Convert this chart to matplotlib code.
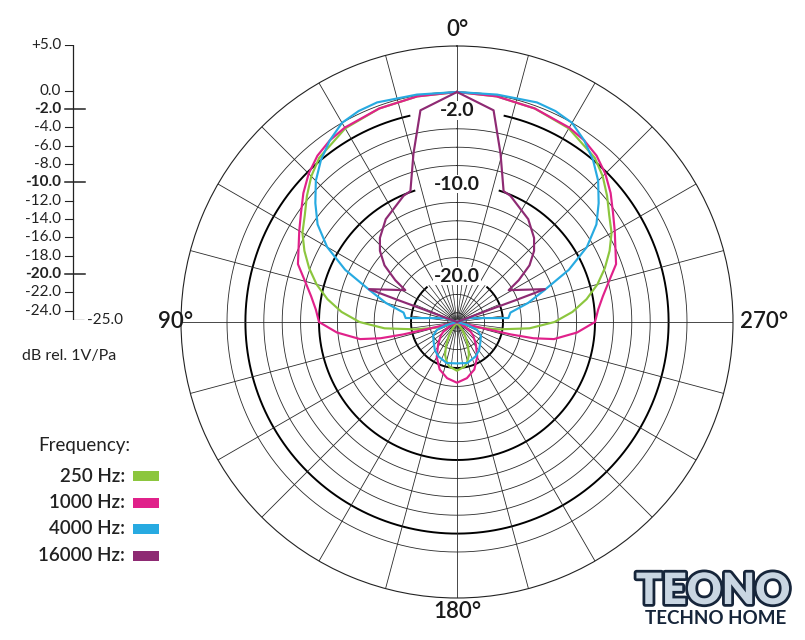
import numpy as np
import matplotlib
matplotlib.use("Agg")
import matplotlib.pyplot as plt
from matplotlib.patches import Rectangle
import matplotlib.patheffects as pe

plt.rcParams['font.family'] = ['Lato', 'DejaVu Sans']

# ---------------- data (dB relative, angles in degrees, one half; pattern is symmetric) -------------
angles_250 = [0, 10, 20, 30, 40, 45, 50, 55, 60, 65, 70, 75, 80, 85, 90, 95, 100, 105, 110, 115,
              140, 146, 150, 155, 160, 165, 170, 180]
db_250 = [0, -0.1, -0.3, -0.7, -1.7, -2.6, -3.7, -4.8, -5.6, -6.7, -7.9, -9.2, -10.7, -12.4, -14.4,
          -17.1, -20.4, -22.6, -24.2, -25, -25, -24.0, -23.2, -22.2, -21.2, -20.6, -20.1, -19.7]

angles_1000 = [0, 10, 20, 30, 35, 40, 45, 50, 55, 60, 65, 70, 75, 80, 85, 90, 95, 100, 102, 103,
               103.5, 105, 115, 120, 125, 130, 140, 150, 160, 170, 180]
db_1000 = [0, -0.1, -0.3, -0.6, -0.9, -1.4, -2.2, -3.2, -4.3, -5.2, -6.0, -6.6, -7.9, -8.9, -9.6,
           -10.0, -11.9, -14.3, -16.5, -19.0, -22.5, -25, -25, -24.1, -23.2, -22.7, -21.8, -20.6,
           -19.5, -18.8, -18.4]

angles_4000 = [0, 10, 20, 25, 30, 35, 40, 45, 50, 55, 60, 65, 70, 75, 80, 85.6, 81.6, 72, 90, 100,
               106, 111.5, 120, 132, 142, 151.7, 166, 180]
db_4000 = [0, 0.1, 0.4, 0.3, 0.0, -0.9, -2.0, -3.3, -4.9, -6.5, -8.7, -11.6, -14.9, -17.0, -19.1,
           -19.4, -22.1, -23.6, -25, -25, -23.8, -22.65, -22.0, -21.6, -21.1, -20.75, -20.4, -20.5]

angles_16000 = [0, 9.8, 14.5, 19.6, 22.9, 34.7, 42.5, 47.3, 52, 55.9, 58.4, 69.5, 69.6, 69.4, 90]
db_16000 = [0, -1.65, -6.1, -9.9, -10.1, -11.4, -12.6, -13.6, -15.0, -16.9, -18.4, -14.8, -18.2,
            -21.3, -25]

series_labels = ["250 Hz:", "1000 Hz:", "4000 Hz:", "16000 Hz:"]
series_colors = ["#8cc63e", "#e0218a", "#27aae1", "#8e2a73"]

scale_values = [5, 0, -2, -4, -6, -8, -10, -12, -14, -16, -18, -20, -22, -24]
scale_bold = [-2, -10, -20]
ring_values = [0, -4, -6, -8, -12, -14, -16, -18, -22, -24]
ring_labels = {-2: 13, -10: 18, -20: 41}   # label value -> half gap (deg)

R_MIN, R_MAX = -25, 5

W, H = 805, 640
fig = plt.figure(figsize=(W / 100, H / 100), dpi=100)

# ---------------- polar axes ----------------
cx, cy, rad = 457, 322, 276
ax = fig.add_axes([(cx - rad) / W, (H - (cy + rad)) / H, 2 * rad / W, 2 * rad / H],
                  projection='polar')
ax.set_theta_zero_location('N')
ax.set_theta_direction(1)
ax.set_ylim(R_MIN, R_MAX)
ax.set_xticks([])
ax.set_yticks([])
ax.grid(False)
ax.spines['polar'].set_linewidth(0.8)
ax.spines['polar'].set_color('#222222')

full = np.linspace(0, 2 * np.pi, 721)
gridc = '#2a2a2a'
for v in ring_values:
    ax.plot(full, np.full_like(full, v), color=gridc, lw=0.6, zorder=1)
for v, gap in ring_labels.items():
    t = np.linspace(np.deg2rad(gap), 2 * np.pi - np.deg2rad(gap), 600)
    ax.plot(t, np.full_like(t, v), color='black', lw=1.4, zorder=1)
for a in range(0, 360, 15):
    ax.plot([np.deg2rad(a)] * 2, [R_MIN, R_MAX], color=gridc, lw=0.6, zorder=1)
for a in np.arange(7.5, 360, 15):
    ax.plot([np.deg2rad(a)] * 2, [R_MIN, -20], color=gridc, lw=0.5, zorder=1)
ax.scatter([0], [R_MIN], s=18, color='#a8a8a8', zorder=2, linewidths=0)

for v in ring_labels:
    ax.text(0, v, f"{v:.1f}", ha='center', va='center', fontsize=14, fontweight='bold',
            color='#1a1a1a', zorder=3,
            bbox=dict(facecolor='white', edgecolor='none', pad=0.6))


def mirror(a, d):
    a = np.asarray(a, float)
    d = np.asarray(d, float)
    th = np.concatenate([a, 360 - a[::-1]])
    rr = np.concatenate([d, d[::-1]])
    return np.deg2rad(th), rr


for (a, d), c, z in zip([(angles_250, db_250), (angles_1000, db_1000),
                         (angles_4000, db_4000), (angles_16000, db_16000)],
                        series_colors, [4, 5, 6, 7]):
    th, rr = mirror(a, d)
    ax.plot(th, rr, color=c, lw=1.55, zorder=z, solid_joinstyle='round')

# angle labels
lab_kw = dict(fontsize=16, fontweight='semibold', color='#1a1a1a', ha='center', va='center')
fig.text(cx / W, 1 - 30 / H, "0°", **lab_kw)
fig.text(176 / W, 1 - 322 / H, "90°", **lab_kw)
fig.text(764 / W, 1 - 322 / H, "270°", **lab_kw)
fig.text(cx / W, 1 - 611 / H, "180°", **lab_kw)

# ---------------- left dB scale ----------------
top_px, bot_px = 45, 320
axL = fig.add_axes([0, 1 - bot_px / H, 200 / W, (bot_px - top_px) / H])
axL.set_xlim(0, 200)
axL.set_ylim(R_MIN, R_MAX)
axL.axis('off')
axL.plot([73, 73], [R_MAX, R_MIN], color='#222222', lw=0.9, solid_capstyle='butt')
axL.plot([73, 84], [R_MIN, R_MIN], color='#222222', lw=0.9, solid_capstyle='butt')
for v in scale_values:
    bold = v in scale_bold
    axL.plot([65, 85 if bold else 73], [v, v], color='#222222', lw=1.1 if bold else 0.8)
    txt = f"+{v:.1f}" if v > 0 else f"{v:.1f}"
    axL.text(61, v, txt, ha='right', va='center', fontsize=11,
             fontweight='bold' if bold else 'normal', color='#222222')
axL.text(87, R_MIN, f"{R_MIN:.1f}", ha='left', va='center', fontsize=11, color='#222222')
fig.text(22 / W, 1 - 356 / H, "dB rel. 1V/Pa", ha='left', va='center', fontsize=11.5,
         color='#222222')

# ---------------- legend ----------------
fig.text(38 / W, 1 - 445 / H, "Frequency:", ha='left', va='center', fontsize=13.5,
         color='#222222')
for i, (lab, c) in enumerate(zip(series_labels, series_colors)):
    yc = 476 + i * 26.5
    fig.text(125 / W, 1 - yc / H, lab, ha='right', va='center', fontsize=13.5,
             fontweight='semibold', color='#222222')
    fig.patches.append(Rectangle((133 / W, 1 - (yc + 5) / H), 26 / W, 10 / H,
                                 transform=fig.transFigure, facecolor=c, edgecolor='none'))

# ---------------- watermark ----------------
fig.text(713 / W, 1 - 591 / H, "TEONO", ha='center', va='center', fontsize=31,
         fontweight='heavy', color='#c9d6e2',
         path_effects=[pe.withStroke(linewidth=4, foreground='#16253a')])
fig.text(716 / W, 1 - 618 / H, "TECHNO HOME", ha='center', va='center', fontsize=13.5,
         fontweight='bold', color='#16253a')

fig.savefig("out.png", dpi=100)
